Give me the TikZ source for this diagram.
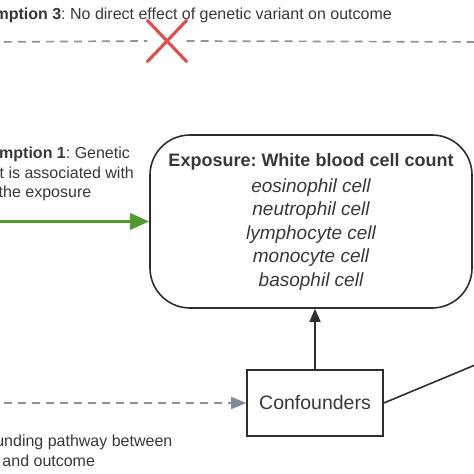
\documentclass[tikz,border=0pt]{standalone}
\usepackage{fontspec}
\setmainfont{Liberation Sans}
\usetikzlibrary{arrows.meta,shapes.misc}
\frenchspacing

\definecolor{txtgray}{HTML}{383838}
\definecolor{dashgray}{HTML}{929292}
\definecolor{tipgray}{HTML}{7F8A99}
\definecolor{assumgreen}{HTML}{4E9A2E}
\definecolor{crossred}{HTML}{DD5050}
\definecolor{linedark}{HTML}{2E2E2E}

\begin{document}
\begin{tikzpicture}[x=1pt, y=-1pt,
	box/.style={draw=linedark, line width=1.6pt, text=txtgray, align=center},
	note/.style={text=txtgray, align=center, inner sep=0pt, font=\fontsize{16}{19.5}\selectfont},
	dashline/.style={dashgray, line width=1.7pt, dash pattern=on 8pt off 6pt}]

	\useasboundingbox (0,0) rectangle (474,474);
	\clip (0,0) rectangle (474,474);

	% exposure and confounders
	\node[box, rounded corners=40pt, minimum width=322pt, minimum height=173pt,
		font=\fontsize{19}{23.5}\selectfont\itshape] (exposure) at (311,221.5)
		{\fontsize{18}{23.5}\selectfont\upshape\bfseries Exposure: White blood cell count\\[2.5pt]
		eosinophil cell\\ neutrophil cell\\ lymphocyte cell\\
		monocyte cell\\ basophil cell};
	\node[box, minimum width=136pt, minimum height=66pt,
		font=\fontsize{19.5}{22}\selectfont] (confounders) at (315,403) {Confounders};

	% ends that lie outside the picture
	\coordinate (gvtop) at (-10,42);
	\coordinate (gvmid) at (-10,221.5);
	\coordinate (gvlow) at (-10,403);
	\coordinate (outtop) at (490,42);
	\coordinate (outcome) at (564,328);

	% assumption 3
	\node[note, anchor=base east] (assum3) at (392,19)
		{\textbf{Assumption 3}: No direct effect of genetic variant on outcome};
	\node[cross out, draw=crossred, line width=3.2pt, line cap=round,
		minimum width=36pt, minimum height=38pt, inner sep=0pt] (xmark) at (167,41) {};
	\draw[dashline] (gvtop) -- (xmark.west);
	\draw[dashline] (xmark.east) -- (outtop);

	% assumption 1
	\node[note, anchor=north] (assum1) at (45,147)
		{\textbf{Assumption 1}: Genetic\\variant is associated with\\the exposure};
	\draw[assumgreen, line width=3.3pt, -{Triangle[length=19pt,width=16pt]}] (gvmid) -- (exposure.west);

	% assumption 2
	\node[note, anchor=north] (assum2) at (-5.5,435)
		{\textbf{Assumption 2}: No confounding pathway between\\genetic variant and outcome};
	\draw[dashline, -{Triangle[length=15pt,width=12pt,color=tipgray]}] (gvlow) -- (confounders.west);

	\draw[linedark, line width=1.6pt, -{Triangle[length=13pt,width=11pt]}] (confounders) -- (confounders.north |- exposure.south);
	\draw[linedark, line width=1.6pt] (confounders.east) -- (outcome);

\end{tikzpicture}
\end{document}
